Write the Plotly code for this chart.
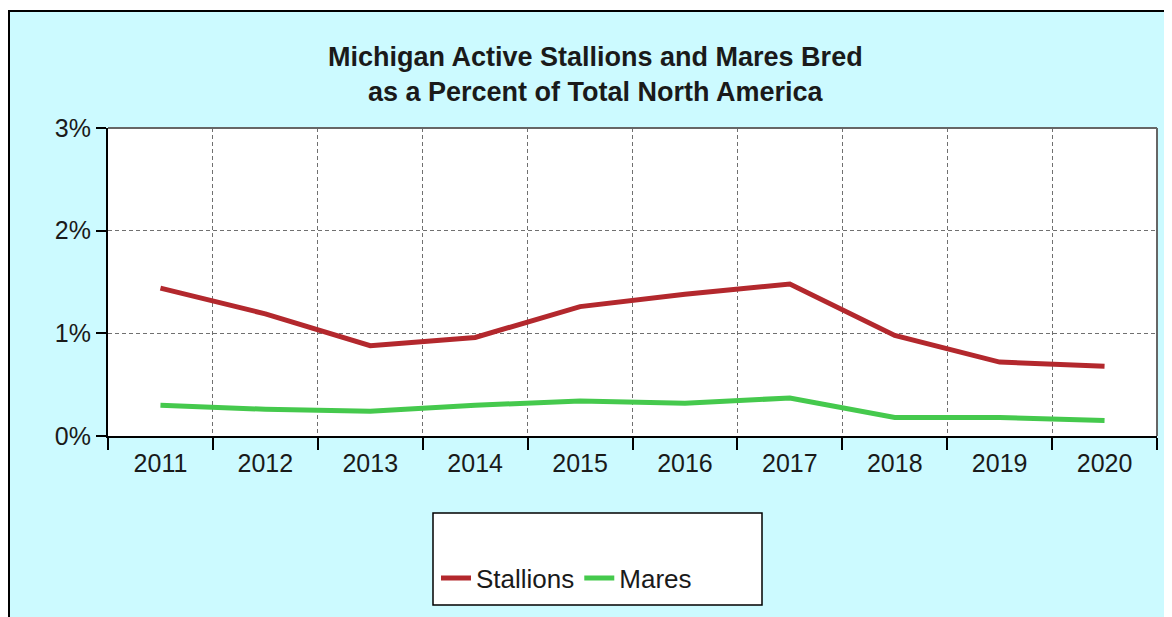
import plotly.graph_objects as go

years = ["2011", "2012", "2013", "2014", "2015", "2016", "2017", "2018", "2019", "2020"]
stallions = [1.44, 1.19, 0.88, 0.96, 1.26, 1.38, 1.48, 0.98, 0.72, 0.68]
mares = [0.30, 0.26, 0.24, 0.30, 0.34, 0.32, 0.37, 0.18, 0.18, 0.15]
y_ticks = [0, 1, 2, 3]
y_labels = ["0%", "1%", "2%", "3%"]

# the page places the figure 8px from the top-left corner (body margin)
OFF = 8
W, H = 1172, 617
L, R, T, B = 108 - OFF, 1157 - OFF, 128 - OFF, 436 - OFF
PW, PH = R - L, B - T

def px(x):
    return (x - OFF - L) / PW

def py(y):
    return (B - (y - OFF)) / PH

FONT = "Liberation Sans, Arial, sans-serif"
CYAN = "#CCFAFF"
TXT = "#1a1a1a"

fig = go.Figure()
fig.add_trace(go.Scatter(x=years, y=stallions, mode="lines", name="Stallions",
                         line=dict(color="#B3282D", width=5)))
fig.add_trace(go.Scatter(x=years, y=mares, mode="lines", name="Mares",
                         line=dict(color="#45C94D", width=5)))

fig.update_layout(
    width=W, height=H,
    margin=dict(l=L, r=W - R, t=T, b=H - B),
    paper_bgcolor=CYAN, plot_bgcolor="white",
    font=dict(family=FONT, size=25, color=TXT),
    showlegend=True,
    legend=dict(orientation="h", x=px(436), y=py(578), xanchor="left", yanchor="middle",
                bgcolor="rgba(0,0,0,0)", borderwidth=0,
                font=dict(family=FONT, size=26, color=TXT)),
    annotations=[dict(
        text="<b>Michigan Active Stallions and Mares Bred<br>as a Percent of Total North America</b>",
        x=px(595), y=py(74), xref="paper", yref="paper", showarrow=False,
        xanchor="center", yanchor="middle",
        font=dict(family=FONT, size=27, color=TXT))],
)

fig.update_xaxes(type="category", range=[-0.5, 9.5], tickson="boundaries",
                 ticks="outside", ticklen=12, tickwidth=2, tickcolor="black",
                 ticklabelstandoff=4,
                 showline=True, linecolor="black", linewidth=2,
                 showgrid=True, gridcolor="#707070", gridwidth=1, griddash="4px,3px",
                 tickfont=dict(family=FONT, size=25, color=TXT))
fig.update_yaxes(range=[0, 3], tickvals=y_ticks, ticktext=y_labels,
                 ticks="outside", ticklen=10, tickwidth=2, tickcolor="black",
                 showline=True, linecolor="black", linewidth=2, zeroline=False,
                 showgrid=True, gridcolor="#707070", gridwidth=1, griddash="4px,3px",
                 tickfont=dict(family=FONT, size=25, color=TXT))

shapes = [
    # white strip above the cyan frame
    dict(type="rect", xref="paper", yref="paper", x0=px(-20), x1=px(1300), y0=py(10), y1=py(-20),
         fillcolor="white", line=dict(width=0), layer="above"),
    # black frame lines
    dict(type="line", xref="paper", yref="paper", x0=px(9), x1=px(9), y0=py(10), y1=py(700),
         line=dict(color="black", width=2), layer="above"),
    dict(type="line", xref="paper", yref="paper", x0=px(8), x1=px(1300), y0=py(11), y1=py(11),
         line=dict(color="black", width=2), layer="above"),
    # plot area top/right border
    dict(type="line", xref="paper", yref="paper", x0=0, x1=1, y0=1, y1=1,
         line=dict(color="#666666", width=2), layer="above"),
    dict(type="line", xref="paper", yref="paper", x0=1, x1=1, y0=0, y1=1,
         line=dict(color="#666666", width=2), layer="above"),
    # legend box
    dict(type="rect", xref="paper", yref="paper", x0=px(433), x1=px(762), y0=py(605), y1=py(513),
         fillcolor="white", line=dict(color="black", width=1.5), layer="below"),
]
fig.update_layout(shapes=shapes)

fig.write_html("out.html")
